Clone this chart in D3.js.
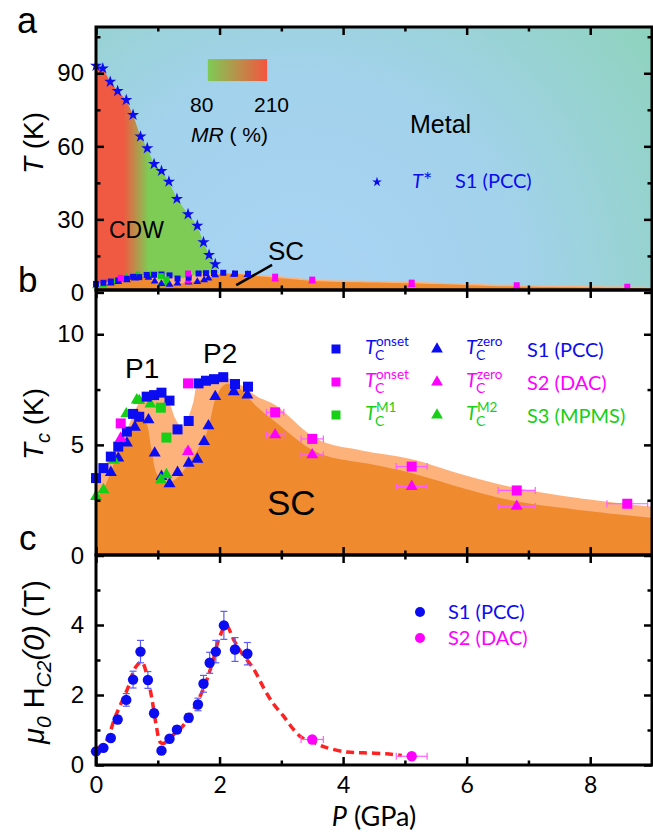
<!DOCTYPE html>
<html>
<head>
<meta charset="utf-8">
<script src="https://cdn.jsdelivr.net/npm/d3@7"></script>
<style>
  body { margin: 0; background: #fff; }
</style>
</head>
<body>
<div id="chart"></div>
<script>
// ---- data ----
// panel a: CDW transition T*
const starP = [0, 0.11, 0.23, 0.35, 0.49, 0.60, 0.72, 0.83, 0.94, 1.06, 1.18, 1.31, 1.49, 1.64, 1.74, 1.83, 1.93]
const starT = [93.1, 92.0, 86.5, 82.7, 79.0, 72.9, 64.0, 59.2, 52.7, 49.9, 45.5, 38.4, 32.1, 27.4, 20.6, 15.4, 11.6]
const cdwEndP = [2.0, 2.0]
const cdwEndT = [7.5, 0]

// panel b: Tc
const s1OnsetP = [0, 0.12, 0.24, 0.36, 0.50, 0.60, 0.70, 0.82, 0.94, 1.06, 1.19, 1.32, 1.50, 1.66, 1.78, 1.91, 2.06, 2.25, 2.46]
const s1OnsetT = [3.5, 3.95, 4.47, 4.92, 5.6, 6.4, 6.27, 7.18, 7.25, 7.36, 7.0, 5.7, 6.08, 7.78, 7.9, 7.97, 8.06, 7.75, 7.63]
const s1ZeroP = [0.24, 0.36, 0.50, 0.63, 0.85, 0.95, 1.06, 1.19, 1.32, 1.50, 1.64, 1.75, 1.82, 1.93, 2.23, 2.45]
const s1ZeroT = [3.75, 4.4, 5.08, 5.8, 6.13, 4.63, 3.57, 3.24, 3.75, 4.17, 4.35, 5.15, 5.86, 7.18, 7.4, 7.25]
const s2OnsetP = [0.40, 1.49, 2.90, 3.50, 5.11, 6.81, 8.60]
const s2OnsetT = [5.97, 7.78, 6.47, 5.27, 4.02, 2.94, 2.34]
const s2OnsetErr = [0, 0, 0.14, 0.18, 0.25, 0.3, 0.33]
const s2ZeroP = [0.40, 1.49, 2.90, 3.50, 5.11, 6.81]
const s2ZeroT = [5.3, 4.7, 5.45, 4.55, 3.12, 2.22]
const s2ZeroErr = [0, 0.05, 0.14, 0.18, 0.25, 0.3]
const s3M1P = [1.05, 1.14]
const s3M1T = [6.68, 5.33]
const s3M2P = [0, 0.12, 0.29, 0.49, 0.66, 0.70, 0.88, 1.05, 1.14]
const s3M2T = [2.67, 2.97, 4.3, 6.4, 7.03, 7.0, 6.85, 3.42, 3.65]

// SC dome edges (onset and zero resistance)
const domeOnsetP = [0, 0.24, 0.5, 0.7, 0.85, 1.05, 1.2, 1.28, 1.39, 1.5, 1.58, 1.64, 1.8, 2.0, 2.15, 2.35, 2.6, 2.9, 3.6, 4.3, 5.1, 6.0, 6.8, 7.8, 9]
const domeOnsetT = [3.4, 4.5, 5.7, 6.9, 7.25, 7.4, 6.8, 6.2, 5.8, 6.3, 7.0, 7.7, 7.9, 8.0, 8.0, 7.7, 7.2, 6.8, 5.23, 4.75, 4.36, 3.6, 3.05, 2.6, 2.2]
const domeZeroP = [0, 0.12, 0.3, 0.5, 0.62, 0.68, 0.75, 0.82, 0.9, 0.98, 1.1, 1.2, 1.35, 1.5, 1.65, 1.8, 1.95, 2.1, 2.3, 2.6, 2.9, 3.6, 4.5, 5.1, 6.0, 6.8, 8.0, 9]
const domeZeroT = [2.6, 3.0, 4.2, 5.3, 6.2, 6.6, 6.3, 5.97, 4.77, 3.72, 3.3, 3.3, 3.6, 4.17, 4.8, 5.6, 7.2, 7.75, 7.6, 6.73, 6.05, 4.63, 4.1, 3.73, 3.0, 2.45, 2.0, 1.7]

// panel c: upper critical field
const hcP = [0, 0.12, 0.24, 0.35, 0.49, 0.60, 0.72, 0.84, 0.94, 1.06, 1.19, 1.31, 1.50, 1.65, 1.74, 1.84, 1.94, 2.07, 2.25, 2.45]
const hcH = [0.39, 0.49, 0.77, 1.30, 1.86, 2.44, 3.24, 2.43, 1.48, 0.41, 0.75, 1.01, 1.35, 1.73, 2.32, 2.92, 3.24, 3.99, 3.30, 3.18]
const hcErr = [0.05, 0.06, 0.08, 0.1, 0.18, 0.24, 0.32, 0.24, 0.1, 0.05, 0.08, 0.1, 0.12, 0.18, 0.24, 0.3, 0.32, 0.4, 0.34, 0.32]
const hc2P = [3.5, 5.11]
const hc2H = [0.73, 0.25]
const hc2Err = [0.18, 0.25]
const fitP = [0, 0.05, 0.17, 0.31, 0.52, 0.64, 0.74, 0.82, 0.90, 0.98, 1.04, 1.10, 1.20, 1.39, 1.57, 1.76, 1.87, 2.01, 2.11, 2.22, 2.33, 2.55, 2.71, 2.87, 3.03, 3.19, 3.33, 3.52, 3.71, 4.06, 4.33, 4.70, 4.95]
const fitH = [0.45, 0.51, 0.70, 1.37, 2.22, 2.79, 2.94, 2.61, 1.94, 1.08, 0.65, 0.62, 0.79, 1.08, 1.56, 2.27, 2.84, 3.70, 3.99, 3.61, 3.27, 2.75, 2.22, 1.75, 1.41, 1.03, 0.79, 0.65, 0.51, 0.37, 0.35, 0.32, 0.27]

const xMajor = [0, 2, 4, 6, 8]
const xMinor = [1, 3, 5, 7, 9]

// ---- layout ----
const W = 653
const H = 834
const L = 96
const R = 652
const ARIAL = "'Liberation Sans', Arial, sans-serif"
const CAL = "Lato, 'Open Sans', sans-serif"
const BLUE = "#0c0cf2"
const MAG = "#ff00ff"
const GREEN = "#16cf16"
const ORANGE = "#ef8a2e"
const PEACH = "#fdb27c"

const x = d3.scaleLinear().domain([0, 9]).range([L, R])
const yA = d3.scaleLinear().domain([1, 109]).range([290, 27])
const yB = d3.scaleLinear().domain([0, 12]).range([555.5, 290])
const yC = d3.scaleLinear().domain([0, 6]).range([765, 555])

const svg = d3.select("#chart").append("svg").attr("width", W).attr("height", H)
const defs = svg.append("defs")

function clip(id, top, bottom) {
  defs.append("clipPath").attr("id", id)
    .append("rect").attr("x", L).attr("y", top).attr("width", R - L).attr("height", bottom - top)
}
clip("clipA", 27, 290)
clip("clipB", 290, 555)
clip("clipC", 555, 765)

const bg = defs.append("radialGradient").attr("id", "bgGrad")
  .attr("gradientUnits", "userSpaceOnUse").attr("cx", 300).attr("cy", 295).attr("r", 440)
bg.append("stop").attr("offset", 0).attr("stop-color", "#a9d4f4")
bg.append("stop").attr("offset", 0.5).attr("stop-color", "#a3d2ec")
bg.append("stop").attr("offset", 1).attr("stop-color", "#8ed3bd")

const cdw = defs.append("linearGradient").attr("id", "cdwGrad")
  .attr("gradientUnits", "userSpaceOnUse").attr("x1", x(0.45)).attr("x2", x(0.85)).attr("y1", 0).attr("y2", 0)
cdw.append("stop").attr("offset", 0).attr("stop-color", "#f05a42")
cdw.append("stop").attr("offset", 1).attr("stop-color", "#7ecb55")

const mr = defs.append("linearGradient").attr("id", "mrGrad")
mr.append("stop").attr("offset", 0).attr("stop-color", "#7ecb55")
mr.append("stop").attr("offset", 1).attr("stop-color", "#f4553f")

const zip = (a, b) => a.map((v, i) => [v, b[i]])

function dome(g, y) {
  const bottom = y.range()[0]
  const area = d3.area().x((d) => x(d[0])).y0(bottom).y1((d) => y(d[1])).curve(d3.curveCatmullRom)
  g.append("path").datum(zip(domeOnsetP, domeOnsetT)).attr("d", area).attr("fill", PEACH)
  g.append("path").datum(zip(domeZeroP, domeZeroT)).attr("d", area).attr("fill", ORANGE)
}

function marks(g, P, T, y, type, color, size) {
  g.append("g").selectAll("path").data(zip(P, T)).join("path")
    .attr("d", d3.symbol(type, size))
    .attr("transform", (d) => `translate(${x(d[0])},${y(d[1])})`)
    .attr("fill", color)
}

function hErr(g, P, T, E, y, color) {
  const d = P.map((p, i) => ({ p, t: T[i], e: E[i] })).filter((d) => d.e > 0)
  const e = g.append("g").attr("stroke", color).attr("stroke-width", 1.2)
  e.selectAll(".bar").data(d).join("line")
    .attr("x1", (d) => x(d.p - d.e)).attr("x2", (d) => x(d.p + d.e))
    .attr("y1", (d) => y(d.t)).attr("y2", (d) => y(d.t))
  e.selectAll(".capl").data(d).join("line")
    .attr("x1", (d) => x(d.p - d.e)).attr("x2", (d) => x(d.p - d.e))
    .attr("y1", (d) => y(d.t) - 3.5).attr("y2", (d) => y(d.t) + 3.5)
  e.selectAll(".capr").data(d).join("line")
    .attr("x1", (d) => x(d.p + d.e)).attr("x2", (d) => x(d.p + d.e))
    .attr("y1", (d) => y(d.t) - 3.5).attr("y2", (d) => y(d.t) + 3.5)
}

function text(g, x0, y0, s, size, opts = {}) {
  return g.append("text").attr("x", x0).attr("y", y0).text(s)
    .style("font-family", opts.font || ARIAL).style("font-size", size + "px")
    .style("font-style", opts.italic ? "italic" : "normal")
    .attr("fill", opts.color || "#000").attr("text-anchor", opts.anchor || "start")
}

function frame(y, top, bottom, yMajor, yMinor, showX) {
  const g = svg.append("g")
  const style = (a) => {
    a.select(".domain").remove()
    a.selectAll("line").attr("stroke-width", 2.5)
    a.selectAll("text").style("font-family", ARIAL).style("font-size", "24px").attr("fill", "#000")
  }
  g.append("g").attr("transform", `translate(${L},0)`)
    .call(d3.axisLeft(y).tickValues(yMajor).tickSizeInner(-8).tickSizeOuter(0).tickPadding(12)
      .tickFormat(d3.format("d"))).call(style)
  g.append("g").attr("transform", `translate(${L},0)`)
    .call(d3.axisLeft(y).tickValues(yMinor).tickSizeInner(-4.5).tickSizeOuter(0).tickFormat("")).call(style)
  g.append("g").attr("transform", `translate(${R},0)`)
    .call(d3.axisRight(y).tickValues(yMajor).tickSizeInner(-8).tickSizeOuter(0).tickFormat("")).call(style)
  g.append("g").attr("transform", `translate(${R},0)`)
    .call(d3.axisRight(y).tickValues(yMinor).tickSizeInner(-4.5).tickSizeOuter(0).tickFormat("")).call(style)
  g.append("g").attr("transform", `translate(0,${top})`)
    .call(d3.axisTop(x).tickValues(xMajor).tickSizeInner(-8).tickSizeOuter(0).tickFormat("")).call(style)
  g.append("g").attr("transform", `translate(0,${top})`)
    .call(d3.axisTop(x).tickValues(xMinor).tickSizeInner(-4.5).tickSizeOuter(0).tickFormat("")).call(style)
  const bx = g.append("g").attr("transform", `translate(0,${bottom})`)
    .call(d3.axisBottom(x).tickValues(xMajor).tickSizeInner(-8).tickSizeOuter(0).tickPadding(12)
      .tickFormat(showX ? d3.format("d") : "")).call(style)
  bx.selectAll("text").style("font-family", CAL).style("font-size", "23px")
  g.append("g").attr("transform", `translate(0,${bottom})`)
    .call(d3.axisBottom(x).tickValues(xMinor).tickSizeInner(-4.5).tickSizeOuter(0).tickFormat("")).call(style)
  g.append("rect").attr("x", L).attr("y", top).attr("width", R - L).attr("height", bottom - top)
    .attr("fill", "none").attr("stroke", "#000").attr("stroke-width", 3)
}

// ---- panel a ----
const ga = svg.append("g")
const fa = ga.append("g").attr("clip-path", "url(#clipA)")
fa.append("rect").attr("x", L).attr("y", 27).attr("width", R - L).attr("height", 263).attr("fill", "url(#bgGrad)")
const cdwPoly = [[0, 0]].concat(zip(starP, starT), zip(cdwEndP, cdwEndT))
fa.append("path").datum(cdwPoly)
  .attr("d", d3.line().x((d) => x(d[0])).y((d) => yA(d[1])))
  .attr("fill", "url(#cdwGrad)")
dome(fa, yA)

ga.append("rect").attr("x", x(1.81)).attr("y", yA(95.8)).attr("width", x(2.77) - x(1.81)).attr("height", yA(86.8) - yA(95.8))
  .attr("fill", "url(#mrGrad)")
text(ga, 190, 112, "80", 21)
text(ga, 254, 112, "210", 21)
const mrT = text(ga, 191, 142, "", 21)
mrT.append("tspan").style("font-style", "italic").text("MR")
mrT.append("tspan").text(" ( %)")
text(ga, 109, 238, "CDW", 23)
text(ga, 410, 133, "Metal", 25)
text(ga, 268, 260, "SC", 26)
ga.append("line").attr("x1", x(2.27)).attr("y1", yA(3.0)).attr("x2", x(2.85)).attr("y2", yA(11.3))
  .attr("stroke", "#000").attr("stroke-width", 2.5)

marks(ga, s3M2P, s3M2T, yA, d3.symbolTriangle, GREEN, 26)
marks(ga, s1ZeroP, s1ZeroT, yA, d3.symbolTriangle, BLUE, 26)
marks(ga, s2ZeroP, s2ZeroT, yA, d3.symbolTriangle, MAG, 26)
marks(ga, s1OnsetP, s1OnsetT, yA, d3.symbolSquare, BLUE, 36)
marks(ga, s2OnsetP, s2OnsetT, yA, d3.symbolSquare, MAG, 36)
marks(ga, s3M1P, s3M1T, yA, d3.symbolSquare, GREEN, 36)
marks(ga, starP, starT, yA, d3.symbolStar, BLUE, 46)

ga.append("path").attr("d", d3.symbol(d3.symbolStar, 30)).attr("transform", "translate(377,182)").attr("fill", BLUE)
const tStar = text(ga, 412, 188, "", 20, { font: CAL, color: BLUE })
tStar.append("tspan").style("font-style", "italic").text("T")
tStar.append("tspan").style("font-size", "22px").text("*")
text(ga, 455, 188, "S1 (PCC)", 20, { font: CAL, color: BLUE })

frame(yA, 27, 290, [0, 30, 60, 90], [15, 45, 75, 105], false)

// ---- panel b ----
const gb = svg.append("g")
dome(gb.append("g").attr("clip-path", "url(#clipB)"), yB)
hErr(gb, s2OnsetP, s2OnsetT, s2OnsetErr, yB, "#ff5cff")
hErr(gb, s2ZeroP, s2ZeroT, s2ZeroErr, yB, "#ff5cff")
marks(gb, s1ZeroP, s1ZeroT, yB, d3.symbolTriangle, BLUE, 62)
marks(gb, s2ZeroP, s2ZeroT, yB, d3.symbolTriangle, MAG, 62)
marks(gb, s3M2P, s3M2T, yB, d3.symbolTriangle, GREEN, 62)
marks(gb, s1OnsetP, s1OnsetT, yB, d3.symbolSquare, BLUE, 100)
marks(gb, s2OnsetP, s2OnsetT, yB, d3.symbolSquare, MAG, 100)
marks(gb, s3M1P, s3M1T, yB, d3.symbolSquare, GREEN, 100)

text(gb, 125, 378, "P1", 28)
text(gb, 203, 363, "P2", 28)
text(gb, 267, 515, "SC", 35)

const legRows = [
  { y: 349, color: BLUE, a: "onset", b: "zero", label: "S1 (PCC)" },
  { y: 382, color: MAG, a: "onset", b: "zero", label: "S2 (DAC)" },
  { y: 415, color: GREEN, a: "M1", b: "M2", label: "S3 (MPMS)" }
]
// T with subscript C and a superscript stacked above it, as one text
function tcLabel(g, x0, yb, sup, color) {
  const t = text(g, x0, yb, "", 20, { font: CAL, color })
  t.append("tspan").style("font-style", "italic").text("T")
  const c = t.append("tspan").style("font-size", "14px").attr("dx", -1).attr("dy", 6).text("C")
  const cw = c.node().getComputedTextLength()
  t.append("tspan").style("font-size", "13.5px").attr("dx", -cw + 1).attr("dy", -14).text(sup)
}
legRows.forEach((r) => {
  gb.append("path").attr("d", d3.symbol(d3.symbolSquare, 81)).attr("transform", `translate(336,${r.y})`).attr("fill", r.color)
  gb.append("path").attr("d", d3.symbol(d3.symbolTriangle, 60)).attr("transform", `translate(437,${r.y})`).attr("fill", r.color)
  tcLabel(gb, 365, r.y + 5, r.a, r.color)
  tcLabel(gb, 466, r.y + 5, r.b, r.color)
  text(gb, 527, r.y + 8, r.label, 20, { font: CAL, color: r.color })
})

frame(yB, 290, 555, [0, 5, 10], [2.5, 7.5], false)

// ---- panel c ----
const gc = svg.append("g")
gc.append("path").datum(zip(fitP, fitH))
  .attr("d", d3.line().x((d) => x(d[0])).y((d) => yC(d[1])).curve(d3.curveCatmullRom))
  .attr("fill", "none").attr("stroke", "#ff2222").attr("stroke-width", 3.5).attr("stroke-dasharray", "8,5")
const ve = gc.append("g").attr("stroke", "#5a5aff").attr("stroke-width", 1.2)
zip(hcP, hcH).forEach((d, i) => {
  const e = hcErr[i]
  const cx = x(d[0])
  ve.append("line").attr("x1", cx).attr("x2", cx).attr("y1", yC(d[1] - e)).attr("y2", yC(d[1] + e))
  ve.append("line").attr("x1", cx - 3.5).attr("x2", cx + 3.5).attr("y1", yC(d[1] - e)).attr("y2", yC(d[1] - e))
  ve.append("line").attr("x1", cx - 3.5).attr("x2", cx + 3.5).attr("y1", yC(d[1] + e)).attr("y2", yC(d[1] + e))
})
hErr(gc, hc2P, hc2H, hc2Err, yC, "#ff5cff")
marks(gc, hcP, hcH, yC, d3.symbolCircle, BLUE, 85)
marks(gc, hc2P, hc2H, yC, d3.symbolCircle, MAG, 85)

gc.append("circle").attr("cx", 420).attr("cy", 612).attr("r", 5).attr("fill", BLUE)
gc.append("circle").attr("cx", 420).attr("cy", 638).attr("r", 5).attr("fill", MAG)
text(gc, 448, 619, "S1 (PCC)", 20, { font: CAL, color: BLUE })
text(gc, 448, 645, "S2 (DAC)", 20, { font: CAL, color: MAG })

frame(yC, 555, 765, [0, 2, 4], [1, 3, 5], true)

// ---- axis titles and panel letters ----
const tA = svg.append("text").attr("transform", "translate(43,143) rotate(-90)").attr("text-anchor", "middle")
  .style("font-family", ARIAL).style("font-size", "28px")
tA.append("tspan").style("font-style", "italic").text("T")
tA.append("tspan").text(" (K)")

const tB = svg.append("text").attr("transform", "translate(43,424) rotate(-90)").attr("text-anchor", "middle")
  .style("font-family", ARIAL).style("font-size", "28px")
tB.append("tspan").style("font-style", "italic").text("T")
tB.append("tspan").style("font-style", "italic").style("font-size", "20px").attr("dy", 7).text("c")
tB.append("tspan").attr("dy", -7).text(" (K)")

const tC = svg.append("text").attr("transform", "translate(44,662) rotate(-90)").attr("text-anchor", "middle")
  .style("font-family", ARIAL).style("font-size", "29px")
tC.append("tspan").style("font-style", "italic").text("\u03bc")
tC.append("tspan").style("font-style", "italic").style("font-size", "21px").attr("dy", 7).text("0")
tC.append("tspan").attr("dy", -7).text(" H")
tC.append("tspan").style("font-style", "italic").style("font-size", "21px").attr("dy", 7).text("C2")
tC.append("tspan").style("font-style", "italic").attr("dy", -7).text("(0)")
tC.append("tspan").text("  (T)")

const tX = svg.append("text").attr("x", 374).attr("y", 826).attr("text-anchor", "middle")
  .style("font-family", CAL).style("font-size", "27px")
tX.append("tspan").style("font-style", "italic").text("P")
tX.append("tspan").text(" (GPa)")

text(svg, 17, 33, "a", 36)
text(svg, 18, 292, "b", 35)
text(svg, 19, 550, "c", 35)
</script>
</body>
</html>
